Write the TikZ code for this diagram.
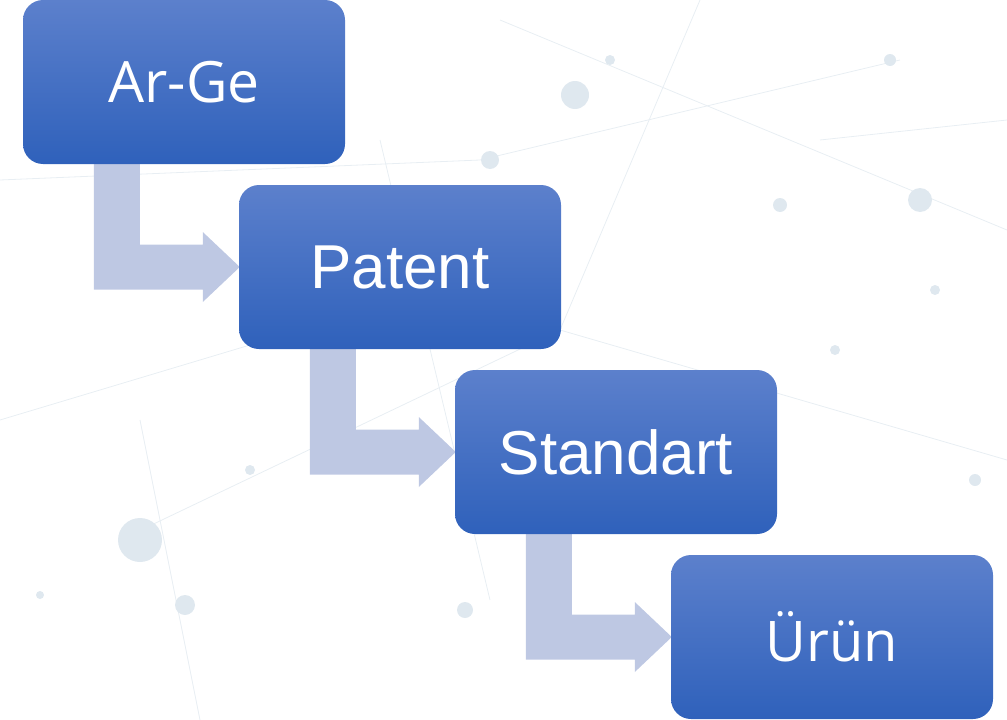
\documentclass[tikz,border=0pt]{standalone}
\usepackage{fontspec}
\setmainfont{Liberation Sans}
\newfontfamily\opensans{Open Sans}
\usepackage{tikz}
\usetikzlibrary{calc,positioning,backgrounds}
\definecolor{boxTop}{HTML}{5C80CC}
\definecolor{boxBottom}{HTML}{2F61BB}
\definecolor{arrowFill}{HTML}{BEC8E3}
\definecolor{netLine}{HTML}{E8EEF3}
\definecolor{netDot}{HTML}{DFE8EF}

\begin{document}
\begin{tikzpicture}[x=1pt,y=-1pt]
    \tikzstyle{every node} = [font=\fontsize{62}{70}\selectfont]
    \tikzstyle{block} = [rectangle, top color=boxTop, bottom color=boxBottom, rounded corners=20pt, minimum width=322pt, minimum height=164pt, text=white, inner sep=0pt]
    \tikzstyle{bentArrow} = [fill=arrowFill]
    \useasboundingbox (0,0) rectangle (1007,720);
    % place nodes
    \node[block] (argeBox) at (184,82) {\opensans\fontsize{57}{64}\selectfont Ar-Ge};
    \node[block] (patentBox) at (400,267) {Patent};
    \node[block] (standartBox) at (616,452) {Standart};
    \node[block] (urunBox) at (832,637) {\opensans\fontsize{56}{64}\selectfont Ürün};
    \begin{scope}[on background layer]
    % faint network backdrop
    \foreach \xa/\ya/\xb/\yb in {0/180/480/160, 480/160/900/60, 500/20/1007/230, 120/540/560/330, 560/330/1007/460, 700/0/560/330, 200/720/140/420, 380/140/490/600, 820/140/1007/120, 0/420/300/330}
        \draw[netLine, line width=0.8pt] (\xa,\ya) -- (\xb,\yb);
    \foreach \xc/\yc/\rc in {575/95/14, 490/160/9, 920/200/12, 890/60/6, 140/540/22, 185/605/10, 465/610/8, 975/480/6, 780/205/7, 835/350/5, 40/595/4, 610/60/5, 935/290/5, 250/470/5}
        \fill[netDot] (\xc,\yc) circle (\rc);
    % Connections
    \foreach \from/\to in {argeBox/patentBox, patentBox/standartBox, standartBox/urunBox}{
        \coordinate (stemL) at ($(\from.south west)+(71,0)$);
        \coordinate (stemR) at ($(\from.south west)+(117,0)$);
        \coordinate (barLow) at ($(\to.west)+(0,22.5)$);
        \coordinate (barHigh) at ($(\to.west)+(0,-22.5)$);
        \fill[bentArrow] (stemL) -- (stemL |- barLow) -- ($(barLow)+(-36,0)$) -- ($(\to.west)+(-36,35)$)
            -- ($(\to.west)+(1,0)$) -- ($(\to.west)+(-36,-35)$) -- ($(barHigh)+(-36,0)$)
            -- (stemR |- barHigh) -- (stemR) -- cycle;
    }
    \end{scope}
  \end{tikzpicture}
\end{document}
